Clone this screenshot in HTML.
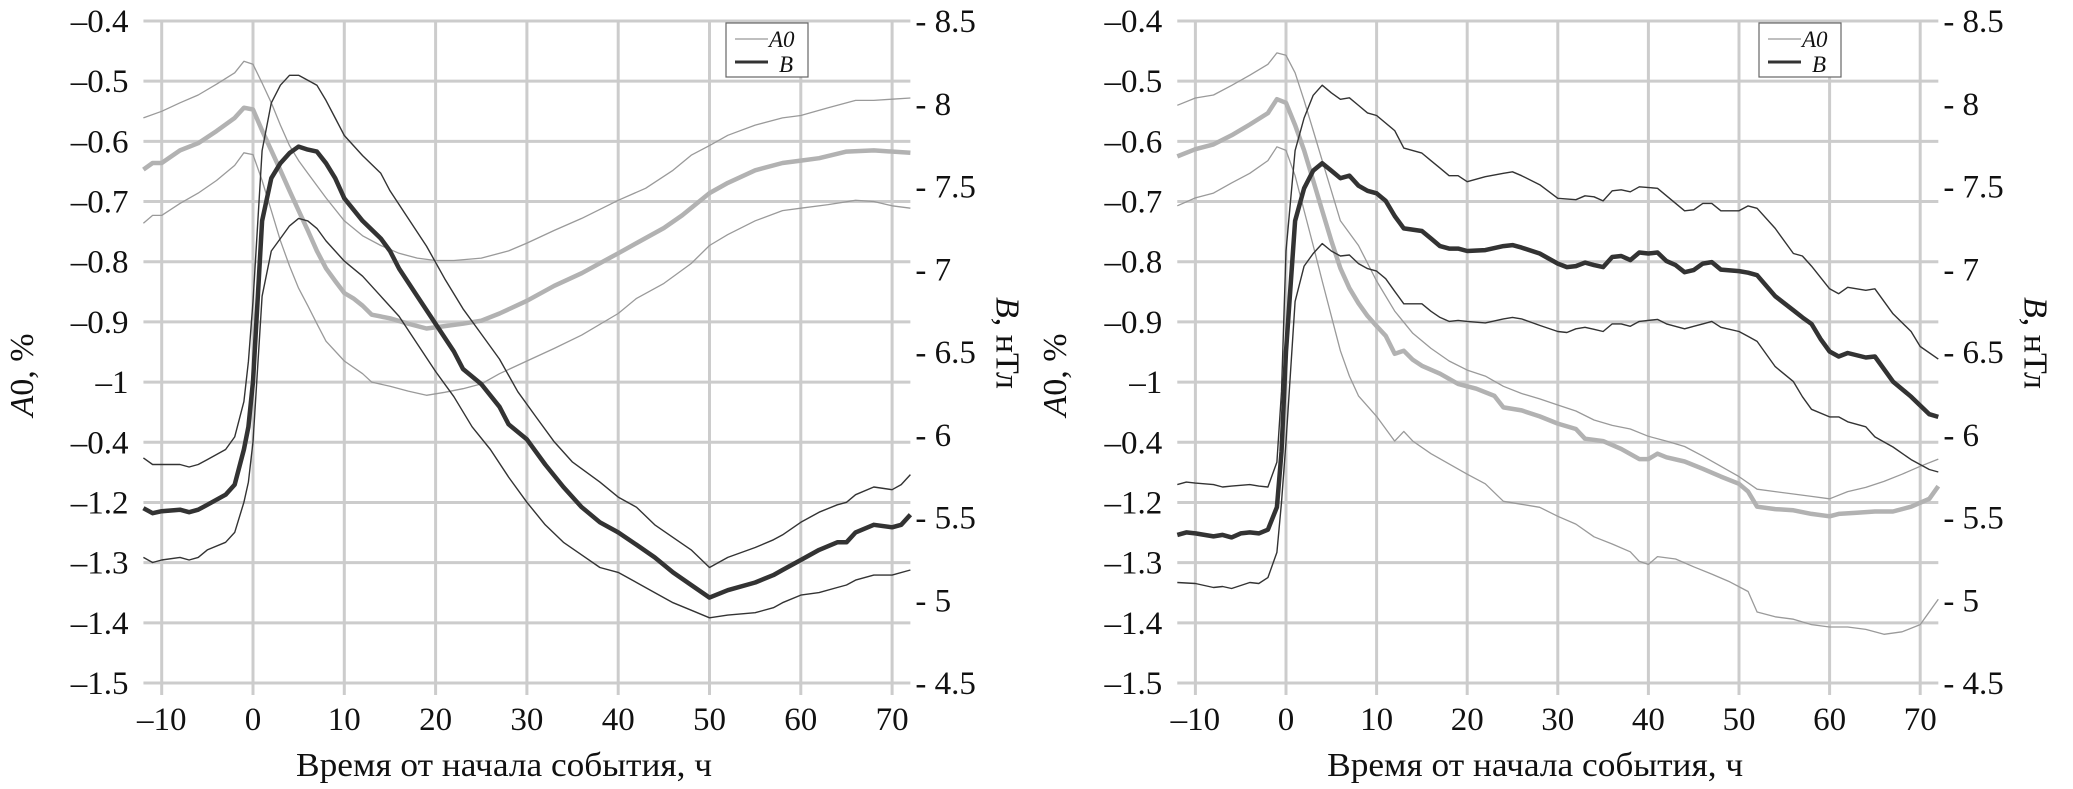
<!DOCTYPE html>
<html><head><meta charset="utf-8">
<style>
html,body{margin:0;padding:0;background:#fff;}
svg{display:block;}
svg text{font-family:"Liberation Serif","Times New Roman",serif;}
</style></head>
<body>
<svg id="chart" width="2073" height="789" viewBox="0 0 2073 789" xmlns="http://www.w3.org/2000/svg" font-family="Liberation Serif, serif"></svg>
<script>
// ---------- axis ticks ----------
const xTicks = [-10, 0, 10, 20, 30, 40, 50, 60, 70];
const xTickLabels = ["\u201310", "0", "10", "20", "30", "40", "50", "60", "70"];
const leftTickLabels = ["\u20130.4","\u20130.5","\u20130.6","\u20130.7","\u20130.8","\u20130.9","\u20131","\u20130.4","\u20131.2","\u20131.3","\u20131.4","\u20131.5"];
const rightTicks = [8.5, 8, 7.5, 7, 6.5, 6, 5.5, 5, 4.5];
const rightTickLabels = ["- 8.5","- 8","- 7.5","- 7","- 6.5","- 6","- 5.5","- 5","- 4.5"];

// ---------- panel 1 data ----------
const p1A0MeanX = [-12,-11,-10,-8,-6,-4,-2,-1,0,1,2,3,4,5,6,7,8,9,10,11,12,13,15,17,19,21,23,25,27,30,33,36,40,42,45,47,50,52,55,58,60,62,65,68,72];
const p1A0Mean = [-0.647,-0.636,-0.636,-0.615,-0.603,-0.583,-0.561,-0.544,-0.547,-0.582,-0.615,-0.648,-0.682,-0.715,-0.748,-0.782,-0.811,-0.832,-0.852,-0.861,-0.873,-0.888,-0.894,-0.903,-0.911,-0.907,-0.903,-0.898,-0.886,-0.865,-0.84,-0.819,-0.786,-0.769,-0.744,-0.723,-0.686,-0.669,-0.648,-0.636,-0.632,-0.628,-0.617,-0.615,-0.619];
const p1A0UpX = [-12,-10,-8,-6,-4,-2,-1,0,1,2,3,4,5,6,8,10,12,14,16,18,20,22,25,28,30,33,36,40,43,46,48,50,52,55,58,60,63,66,68,70,72];
const p1A0Up = [-0.561,-0.55,-0.536,-0.523,-0.505,-0.486,-0.467,-0.472,-0.503,-0.536,-0.573,-0.607,-0.632,-0.653,-0.694,-0.732,-0.757,-0.773,-0.786,-0.794,-0.798,-0.798,-0.794,-0.782,-0.769,-0.748,-0.728,-0.698,-0.678,-0.648,-0.623,-0.607,-0.59,-0.573,-0.561,-0.557,-0.544,-0.532,-0.532,-0.53,-0.528];
const p1A0LoX = [-12,-11,-10,-8,-6,-4,-2,-1,0,1,2,3,4,5,6,7,8,10,12,13,15,17,19,21,23,25,27,30,33,36,40,42,45,48,50,52,55,58,60,63,66,68,70,72];
const p1A0Lo = [-0.736,-0.723,-0.723,-0.703,-0.686,-0.665,-0.64,-0.619,-0.622,-0.665,-0.715,-0.765,-0.807,-0.844,-0.873,-0.903,-0.932,-0.965,-0.986,-1.0,-1.007,-1.015,-1.022,-1.017,-1.011,-1.003,-0.986,-0.965,-0.944,-0.922,-0.886,-0.861,-0.836,-0.803,-0.773,-0.755,-0.732,-0.715,-0.711,-0.705,-0.698,-0.7,-0.707,-0.711];
const p1BMeanX = [-12,-11,-10,-8,-7,-6,-5,-3,-2,-1,-0.5,0,1,2,3,4,5,6,7,8,9,10,12,14,15,16,18,20,22,23,25,27,28,30,32,34,36,38,40,42,44,46,48,50,52,55,57,58,60,62,64,65,66,68,70,71,72];
const p1BMean = [5.556,5.526,5.538,5.547,5.532,5.547,5.577,5.638,5.699,5.911,6.048,6.321,7.292,7.55,7.641,7.702,7.741,7.723,7.711,7.641,7.55,7.429,7.292,7.186,7.11,7.004,6.837,6.67,6.503,6.397,6.306,6.169,6.063,5.972,5.82,5.684,5.562,5.471,5.41,5.335,5.259,5.168,5.092,5.016,5.061,5.107,5.152,5.183,5.243,5.304,5.35,5.35,5.41,5.456,5.441,5.456,5.517];
const p1BUpX = [-12,-11,-10,-8,-7,-6,-5,-3,-2,-1,-0.5,0,1,2,3,4,5,6,7,8,9,10,12,14,15,17,19,21,23,25,27,29,31,33,35,38,40,42,44,46,48,50,52,55,57,58,60,62,64,65,66,68,70,71,72];
const p1BUp = [5.86,5.82,5.82,5.82,5.805,5.82,5.85,5.911,5.987,6.2,6.442,6.806,7.717,8.005,8.112,8.172,8.172,8.142,8.112,8.02,7.914,7.808,7.687,7.58,7.474,7.307,7.14,6.943,6.761,6.609,6.457,6.26,6.108,5.957,5.835,5.714,5.623,5.562,5.456,5.38,5.304,5.198,5.259,5.319,5.365,5.395,5.471,5.532,5.577,5.592,5.638,5.684,5.668,5.699,5.759];
const p1BLoX = [-12,-11,-10,-8,-7,-6,-5,-3,-2,-1,-0.5,0,1,2,3,4,5,6,7,8,10,12,14,16,18,20,22,24,26,28,30,32,34,36,38,40,42,44,46,48,50,52,55,57,58,60,62,64,65,66,68,70,72];
const p1BLo = [5.259,5.228,5.243,5.259,5.243,5.259,5.304,5.35,5.41,5.592,5.714,5.957,6.837,7.11,7.186,7.262,7.307,7.292,7.247,7.171,7.049,6.958,6.837,6.715,6.549,6.382,6.23,6.048,5.911,5.744,5.592,5.456,5.35,5.274,5.198,5.168,5.107,5.046,4.985,4.94,4.894,4.91,4.925,4.955,4.985,5.031,5.046,5.077,5.092,5.122,5.152,5.152,5.183];

// ---------- panel 2 data ----------
const p2A0MeanX = [-12,-10,-8,-6,-4,-2,-1,0,1,2,3,4,5,6,7,8,9,10,11,12,13,14,15,17,19,21,23,24,26,28,30,32,33,35,37,39,40,41,42,44,46,48,50,51,52,54,56,58,60,61,63,65,67,69,71,72];
const p2A0Mean = [-0.625,-0.613,-0.605,-0.59,-0.572,-0.553,-0.53,-0.536,-0.573,-0.615,-0.665,-0.715,-0.765,-0.811,-0.844,-0.869,-0.89,-0.907,-0.923,-0.953,-0.948,-0.963,-0.973,-0.986,-1.003,-1.011,-1.023,-1.042,-1.047,-1.057,-1.069,-1.078,-1.094,-1.098,-1.111,-1.128,-1.128,-1.119,-1.125,-1.132,-1.144,-1.157,-1.169,-1.182,-1.207,-1.211,-1.213,-1.219,-1.223,-1.219,-1.217,-1.215,-1.215,-1.207,-1.194,-1.173];
const p2A0UpX = [-12,-10,-8,-6,-4,-2,-1,0,1,2,3,4,5,6,8,10,12,14,16,18,20,22,24,26,28,30,32,34,36,38,40,42,44,46,48,50,52,54,56,58,60,62,64,66,68,70,72];
const p2A0Up = [-0.54,-0.528,-0.523,-0.507,-0.49,-0.472,-0.453,-0.457,-0.486,-0.532,-0.582,-0.632,-0.682,-0.732,-0.773,-0.832,-0.882,-0.919,-0.944,-0.965,-0.98,-0.99,-1.007,-1.019,-1.028,-1.038,-1.048,-1.063,-1.072,-1.078,-1.09,-1.098,-1.107,-1.123,-1.14,-1.157,-1.178,-1.182,-1.186,-1.19,-1.194,-1.182,-1.175,-1.165,-1.153,-1.14,-1.128];
const p2A0LoX = [-12,-10,-8,-6,-4,-2,-1,0,1,2,3,4,5,6,7,8,10,12,13,14,16,18,20,22,24,26,28,30,32,34,36,38,39,40,41,43,45,47,49,51,52,54,56,58,60,62,64,66,68,70,72];
const p2A0Lo = [-0.707,-0.694,-0.686,-0.669,-0.653,-0.632,-0.609,-0.615,-0.657,-0.715,-0.773,-0.832,-0.89,-0.948,-0.99,-1.023,-1.057,-1.098,-1.082,-1.098,-1.119,-1.136,-1.153,-1.169,-1.198,-1.203,-1.208,-1.223,-1.236,-1.257,-1.269,-1.282,-1.298,-1.303,-1.29,-1.294,-1.307,-1.319,-1.332,-1.348,-1.382,-1.39,-1.394,-1.403,-1.407,-1.407,-1.411,-1.419,-1.415,-1.403,-1.361];
const p2BMeanX = [-12,-11,-10,-8,-7,-6,-5,-4,-3,-2,-1,-0.5,0,1,2,3,4,5,6,7,8,9,10,11,12,13,15,16,17,18,19,20,22,24,25,26,28,30,31,32,33,34,35,36,37,38,39,40,41,42,43,44,45,46,47,48,50,51,52,54,56,57,58,59,60,61,62,64,65,67,69,71,72];
const p2BMean = [5.395,5.41,5.404,5.386,5.395,5.38,5.404,5.41,5.404,5.426,5.562,5.896,6.503,7.292,7.489,7.596,7.641,7.596,7.55,7.565,7.505,7.474,7.459,7.413,7.322,7.247,7.231,7.186,7.14,7.125,7.125,7.11,7.116,7.14,7.146,7.131,7.095,7.034,7.013,7.019,7.04,7.025,7.013,7.074,7.08,7.055,7.101,7.095,7.101,7.049,7.025,6.982,6.995,7.034,7.043,6.998,6.989,6.979,6.964,6.837,6.752,6.709,6.67,6.579,6.503,6.473,6.494,6.467,6.473,6.321,6.23,6.124,6.108];
const p2BUpX = [-12,-11,-10,-8,-7,-6,-4,-3,-2,-1,-0.5,0,1,2,3,4,5,6,7,8,9,10,12,13,15,16,17,18,19,20,22,24,25,26,28,30,32,33,34,35,36,37,38,39,41,42,44,45,46,47,48,50,51,52,54,56,57,58,60,61,62,64,65,67,69,70,72];
const p2BUp = [5.699,5.714,5.708,5.699,5.684,5.69,5.699,5.69,5.684,5.835,6.26,7.11,7.717,7.914,8.051,8.112,8.066,8.027,8.036,7.99,7.945,7.929,7.838,7.732,7.702,7.656,7.611,7.565,7.565,7.529,7.559,7.58,7.589,7.565,7.511,7.429,7.42,7.444,7.438,7.413,7.474,7.48,7.468,7.498,7.489,7.444,7.353,7.359,7.398,7.398,7.353,7.353,7.383,7.368,7.247,7.095,7.08,7.019,6.882,6.852,6.891,6.873,6.882,6.731,6.624,6.533,6.457];
const p2BLoX = [-12,-10,-8,-7,-6,-4,-3,-2,-1,-0.5,0,1,2,3,4,5,6,7,8,9,10,11,12,13,15,16,17,18,19,20,22,24,25,26,28,30,31,32,33,34,35,36,37,38,39,41,42,44,45,46,47,48,50,51,52,54,56,57,58,60,61,62,64,65,67,69,71,72];
const p2BLo = [5.107,5.101,5.077,5.083,5.071,5.107,5.101,5.137,5.289,5.592,5.957,6.806,7.019,7.095,7.155,7.11,7.08,7.086,7.034,7.004,6.989,6.943,6.867,6.791,6.791,6.746,6.709,6.685,6.691,6.685,6.676,6.7,6.709,6.7,6.661,6.624,6.618,6.64,6.649,6.637,6.624,6.67,6.67,6.655,6.685,6.697,6.67,6.64,6.655,6.67,6.685,6.649,6.624,6.594,6.564,6.412,6.321,6.23,6.154,6.108,6.108,6.078,6.048,5.987,5.926,5.85,5.79,5.775];

// ---------- drawing ----------
const NS = "http://www.w3.org/2000/svg";
const svg = document.getElementById("chart");
const FONT = "'Liberation Serif', 'DejaVu Serif', serif";
function mk(tag, attrs, parent) {
  const e = document.createElementNS(NS, tag);
  for (const k in attrs) e.setAttribute(k, attrs[k]);
  if (tag === "text") e.setAttribute("font-family", FONT);
  (parent || svg).appendChild(e);
  return e;
}
const Y_TOP = 21, Y_BOT = 683;
function yLeft(v) { return Y_TOP + (-0.4 - v) / 1.1 * (Y_BOT - Y_TOP); }
function yRight(v) { return Y_TOP + (8.5 - v) / 4 * (Y_BOT - Y_TOP); }

function drawPanel(idx, x0, dx, series) {
  const xs = v => x0 + v * dx;
  const g = mk("g", {});
  
  
  const left = xs(-12), right = xs(72);
  leftTickLabels.forEach((lab, i) => {
    const y = Y_TOP + i * (Y_BOT - Y_TOP) / 11;
    const l = mk("line", {x1: left, x2: right, y1: y, y2: y, stroke: "#cccccc", "stroke-width": 3}, g);
    
    
    const t = mk("text", {x: left - 15, y: y + 11, "text-anchor": "end", "font-size": 33, fill: "#111"}, g);
    t.textContent = lab;
    
    
  });
  xTicks.forEach((v, i) => {
    const x = xs(v);
    const l = mk("line", {x1: x, x2: x, y1: Y_TOP, y2: Y_BOT + 12, stroke: "#cccccc", "stroke-width": 3}, g);
    
    
    const t = mk("text", {x: x, y: 730, "text-anchor": "middle", "font-size": 33, fill: "#111"}, g);
    t.textContent = xTickLabels[i];
    
    
  });
  rightTicks.forEach((v, i) => {
    const t = mk("text", {x: right + 5, y: yRight(v) + 11, "font-size": 33, fill: "#111"}, g);
    t.textContent = rightTickLabels[i];
    
    
  });
  const xt = mk("text", {x: x0 + 27.5 * dx, y: 776, "text-anchor": "middle", "font-size": 34, fill: "#111", textLength: 416, lengthAdjust: "spacingAndGlyphs"}, g);
  xt.textContent = "Время от начала события, ч";
  
  
  const ly = mk("text", {transform: "translate(" + (x0 - 220) + ",375) rotate(-90)", "text-anchor": "middle", "font-size": 34, fill: "#111"}, g);
  ly.innerHTML = '<tspan font-style="italic">A</tspan>0, %';
  
  
  const ry = mk("text", {transform: "translate(" + (right + 86) + ",343) rotate(90)", "text-anchor": "middle", "font-size": 34, fill: "#111"}, g);
  ry.innerHTML = '<tspan font-style="italic">B</tspan>, нТл';
  
  
  series.forEach(s => {
    const yf = s.axis === "left" ? yLeft : yRight;
    const pts = s.x.map((xv, i) => xs(xv).toFixed(1) + "," + yf(s.y[i]).toFixed(1)).join(" ");
    const p = mk("polyline", {points: pts, fill: "none", stroke: s.color, "stroke-width": s.w, "stroke-linejoin": "round"}, g);
    
    
  });
  const lg = mk("g", {}, g);
  
  
  const lx = x0 + 473;
  mk("rect", {x: lx, y: 23, width: 82, height: 54, fill: "#fff", stroke: "#666", "stroke-width": 1.2}, lg);
  mk("line", {x1: lx + 9, x2: lx + 42, y1: 39, y2: 39, stroke: "#999", "stroke-width": 1.3}, lg);
  const t1 = mk("text", {x: lx + 43, y: 47, "font-size": 23, "font-style": "italic", fill: "#111"}, lg);
  t1.textContent = "A0";
  
  
  mk("line", {x1: lx + 9, x2: lx + 42, y1: 62, y2: 62, stroke: "#333", "stroke-width": 3}, lg);
  const t2 = mk("text", {x: lx + 53, y: 72, "font-size": 23, "font-style": "italic", fill: "#111"}, lg);
  t2.textContent = "B";
  
  
}

drawPanel(1, 253, 9.13, [
  {name: "a0-upper-line", x: p1A0UpX, y: p1A0Up, axis: "left", color: "#9a9a9a", w: 1.3},
  {name: "a0-lower-line", x: p1A0LoX, y: p1A0Lo, axis: "left", color: "#9a9a9a", w: 1.3},
  {name: "a0-mean-line", x: p1A0MeanX, y: p1A0Mean, axis: "left", color: "#b2b2b2", w: 4.5},
  {name: "b-upper-line", x: p1BUpX, y: p1BUp, axis: "right", color: "#333", w: 1.4},
  {name: "b-lower-line", x: p1BLoX, y: p1BLo, axis: "right", color: "#333", w: 1.4},
  {name: "b-mean-line", x: p1BMeanX, y: p1BMean, axis: "right", color: "#333", w: 4.5}
]);
drawPanel(2, 1286, 9.06, [
  {name: "a0-upper-line", x: p2A0UpX, y: p2A0Up, axis: "left", color: "#9a9a9a", w: 1.3},
  {name: "a0-lower-line", x: p2A0LoX, y: p2A0Lo, axis: "left", color: "#9a9a9a", w: 1.3},
  {name: "a0-mean-line", x: p2A0MeanX, y: p2A0Mean, axis: "left", color: "#b2b2b2", w: 4.5},
  {name: "b-upper-line", x: p2BUpX, y: p2BUp, axis: "right", color: "#333", w: 1.4},
  {name: "b-lower-line", x: p2BLoX, y: p2BLo, axis: "right", color: "#333", w: 1.4},
  {name: "b-mean-line", x: p2BMeanX, y: p2BMean, axis: "right", color: "#333", w: 4.5}
]);
</script>
</body></html>
